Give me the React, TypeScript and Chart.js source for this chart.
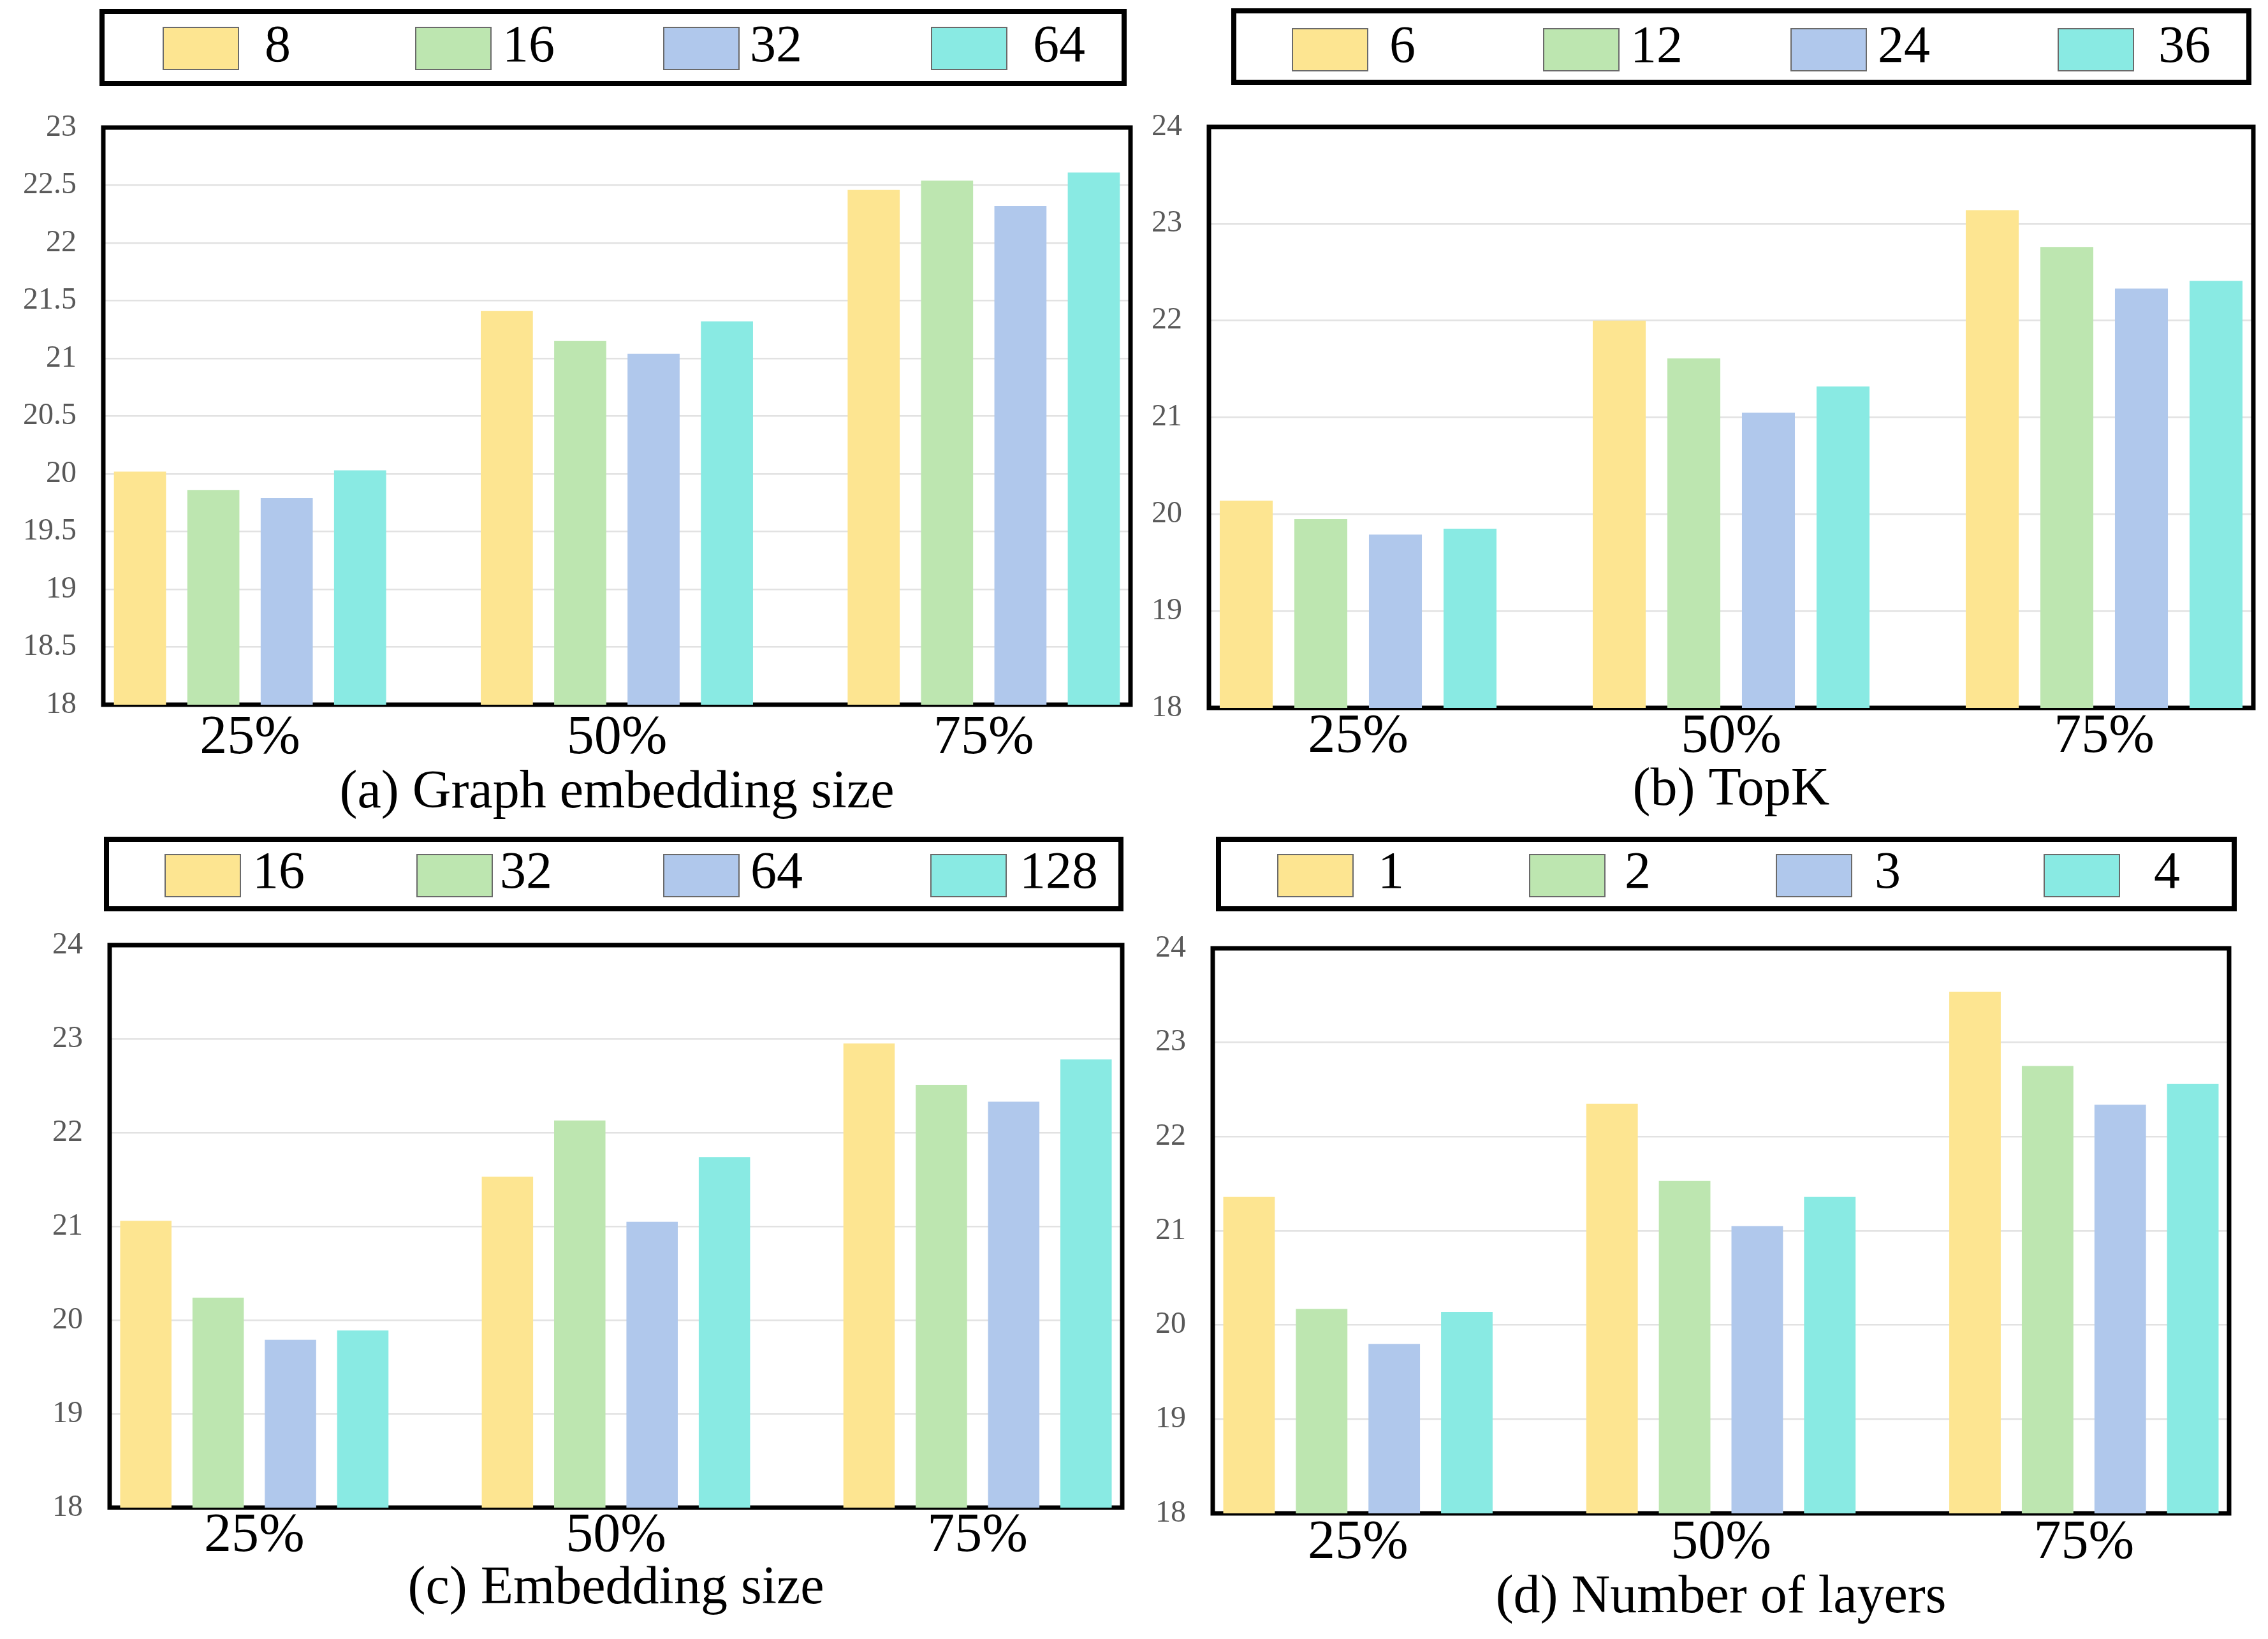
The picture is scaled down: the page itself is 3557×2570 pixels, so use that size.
import React, { useEffect, useRef } from 'react';
import { Chart, registerables } from 'chart.js';

Chart.register(...registerables);

// ---------- data ----------
const categories = ['25%', '50%', '75%'];

const graphEmbSizes = ['8', '16', '32', '64'];
const graphEmb8 = [20.02, 21.41, 22.46];
const graphEmb16 = [19.86, 21.15, 22.54];
const graphEmb32 = [19.79, 21.04, 22.32];
const graphEmb64 = [20.03, 21.32, 22.61];

const topKSizes = ['6', '12', '24', '36'];
const topK6 = [20.14, 22.0, 23.14];
const topK12 = [19.95, 21.61, 22.76];
const topK24 = [19.79, 21.05, 22.33];
const topK36 = [19.85, 21.32, 22.41];

const embSizes = ['16', '32', '64', '128'];
const emb16 = [21.06, 21.53, 22.95];
const emb32 = [20.24, 22.13, 22.51];
const emb64 = [19.79, 21.05, 22.33];
const emb128 = [19.89, 21.74, 22.78];

const layerCounts = ['1', '2', '3', '4'];
const layers1 = [21.36, 22.35, 23.54];
const layers2 = [20.17, 21.53, 22.75];
const layers3 = [19.8, 21.05, 22.34];
const layers4 = [20.14, 21.36, 22.56];

const yAxisA = { min: 18, max: 23, step: 0.5 };
const yAxisOther = { min: 18, max: 24, step: 1 };

const seriesColors = ['#FDE591', '#BDE6B0', '#B0C8EC', '#89EAE3'];

// ---------- layout / style ----------
const FONT = "'Liberation Serif', 'Times New Roman', serif";

type Panel = {
  key: string;
  title: string;
  labels: string[];
  series: number[][];
  y: { min: number; max: number; step: number };
  box: { left: number; top: number; width: number; height: number };
  area: { left: number; right: number; top: number; bottom: number };
  legendBox: { x: number; y: number; w: number; h: number };
  swatchX: number[];
  textX: number[];
  swatchCy: number;
  textCy: number;
  titlePad: number;
  tickPad: number;
};

const panels: Panel[] = [
  {
    key: 'a',
    title: '(a) Graph embedding size',
    labels: graphEmbSizes,
    series: [graphEmb8, graphEmb16, graphEmb32, graphEmb64],
    y: yAxisA,
    box: { left: 0, top: 0, width: 1790, height: 1290 },
    area: { left: 162, right: 1773, top: 200, bottom: 1105 },
    legendBox: { x: 156, y: 14, w: 1611, h: 121 },
    swatchX: [256, 652, 1041, 1461],
    textX: [415, 788, 1176, 1620],
    swatchCy: 76,
    textCy: 74,
    titlePad: 4,
    tickPad: 10,
  },
  {
    key: 'b',
    title: '(b) TopK',
    labels: topKSizes,
    series: [topK6, topK12, topK24, topK36],
    y: yAxisOther,
    box: { left: 1790, top: 0, width: 1767, height: 1290 },
    area: { left: 106, right: 1744, top: 199, bottom: 1110 },
    legendBox: { x: 141, y: 13, w: 1600, h: 120 },
    swatchX: [237, 631, 1019, 1438],
    textX: [389, 767, 1155, 1595],
    swatchCy: 78,
    textCy: 75,
    titlePad: 8,
    tickPad: 3,
  },
  {
    key: 'c',
    title: '(c) Embedding size',
    labels: embSizes,
    series: [emb16, emb32, emb64, emb128],
    y: yAxisOther,
    box: { left: 0, top: 1290, width: 1790, height: 1280 },
    area: { left: 172, right: 1760, top: 192, bottom: 1074 },
    legendBox: { x: 163, y: 22, w: 1599, h: 117 },
    swatchX: [259, 654, 1041, 1460],
    textX: [396, 784, 1177, 1599],
    swatchCy: 83,
    textCy: 80,
    titlePad: 36,
    tickPad: 2,
  },
  {
    key: 'd',
    title: '(d) Number of layers',
    labels: layerCounts,
    series: [layers1, layers2, layers3, layers4],
    y: yAxisOther,
    box: { left: 1790, top: 1290, width: 1767, height: 1280 },
    area: { left: 112, right: 1706, top: 197, bottom: 1083 },
    legendBox: { x: 117, y: 22, w: 1601, h: 117 },
    swatchX: [214, 609, 996, 1416],
    textX: [371, 758, 1150, 1588],
    swatchCy: 83,
    textCy: 80,
    titlePad: 22,
    tickPad: 4,
  },
];

function PanelChart({ p }: { p: Panel }) {
  const ref = useRef<HTMLCanvasElement | null>(null);

  useEffect(() => {
    const canvas = ref.current;
    if (!canvas) return;
    const W = p.box.width;
    const H = p.box.height;

    const framePlugin = {
      id: 'frame' + p.key,
      beforeDatasetsDraw(chart: any) {
        const { ctx, chartArea } = chart;
        ctx.save();
        ctx.strokeStyle = '#000';
        ctx.lineWidth = 7;
        ctx.strokeRect(
          chartArea.left,
          chartArea.top,
          chartArea.right - chartArea.left,
          chartArea.bottom - chartArea.top
        );
        ctx.restore();
      },
    };

    const legendPlugin = {
      id: 'boxLegend' + p.key,
      afterDraw(chart: any) {
        const { ctx } = chart;
        const lb = p.legendBox;
        ctx.save();
        ctx.strokeStyle = '#000';
        ctx.lineWidth = 8;
        ctx.strokeRect(lb.x + 4, lb.y + 4, lb.w - 8, lb.h - 8);
        const sw = 118;
        const sh = 66;
        chart.data.datasets.forEach((ds: any, i: number) => {
          const sx = p.swatchX[i];
          const sy = p.swatchCy - sh / 2;
          ctx.fillStyle = ds.backgroundColor;
          ctx.fillRect(sx, sy, sw, sh);
          ctx.strokeStyle = '#6a6a6a';
          ctx.lineWidth = 2;
          ctx.strokeRect(sx, sy, sw, sh);
          ctx.fillStyle = '#000';
          ctx.font = `82px ${FONT}`;
          ctx.textAlign = 'left';
          ctx.textBaseline = 'middle';
          ctx.fillText(ds.label, p.textX[i], p.textCy);
        });
        ctx.restore();
      },
    };

    const chart = new Chart(canvas, {
      type: 'bar',
      data: {
        datasets: p.series.map((vals, i) => ({
          label: p.labels[i],
          data: vals.map((v, j) => ({ x: j, y: v })),
          backgroundColor: seriesColors[i],
          borderWidth: 0,
        })),
      },
      options: {
        animation: false,
        responsive: false,
        maintainAspectRatio: false,
        layout: {
          padding: { left: 0, top: p.area.top, right: W - p.area.right, bottom: 0 },
        },
        datasets: {
          bar: { categoryPercentage: 0.8, barPercentage: 0.71 },
        } as any,
        plugins: {
          legend: { display: false },
          tooltip: { enabled: false },
        },
        scales: {
          x: {
            type: 'linear',
            min: -0.4,
            max: 2.4,
            offset: false,
            grid: { display: false, drawTicks: false },
            border: { display: false },
            ticks: {
              stepSize: 1,
              includeBounds: false,
              autoSkip: false,
              maxRotation: 0,
              padding: p.tickPad,
              color: '#000',
              font: { family: FONT, size: 86, lineHeight: 1 },
              callback: (v: any) => categories[v as number] ?? '',
            },
            title: {
              display: true,
              text: p.title,
              color: '#000',
              font: { family: FONT, size: 84, lineHeight: 1 },
              padding: { top: 0, bottom: p.titlePad },
            },
            afterFit: (s: any) => {
              s.height = H - p.area.bottom;
            },
          },
          y: {
            min: p.y.min,
            max: p.y.max,
            grid: { color: '#e2e2e2', lineWidth: 2.5, drawTicks: false },
            border: { display: false },
            ticks: {
              stepSize: p.y.step,
              padding: 42,
              color: '#595959',
              font: { family: FONT, size: 48 },
              callback: (v: any) => String(v),
            },
            afterFit: (s: any) => {
              s.width = p.area.left;
            },
          },
        } as any,
      },
      plugins: [framePlugin, legendPlugin],
    });

    return () => {
      chart.destroy();
    };
  }, [p]);

  return (
    <canvas
      ref={ref}
      width={p.box.width}
      height={p.box.height}
      style={{
        position: 'absolute',
        left: p.box.left,
        top: p.box.top,
        width: p.box.width,
        height: p.box.height,
      }}
    />
  );
}

export default function App() {
  return (
    <div
      style={{
        position: 'absolute',
        left: 0,
        top: 0,
        width: 3557,
        height: 2570,
        background: '#fff',
        overflow: 'hidden',
      }}
    >
      {panels.map((p) => (
        <PanelChart key={p.key} p={p} />
      ))}
    </div>
  );
}
